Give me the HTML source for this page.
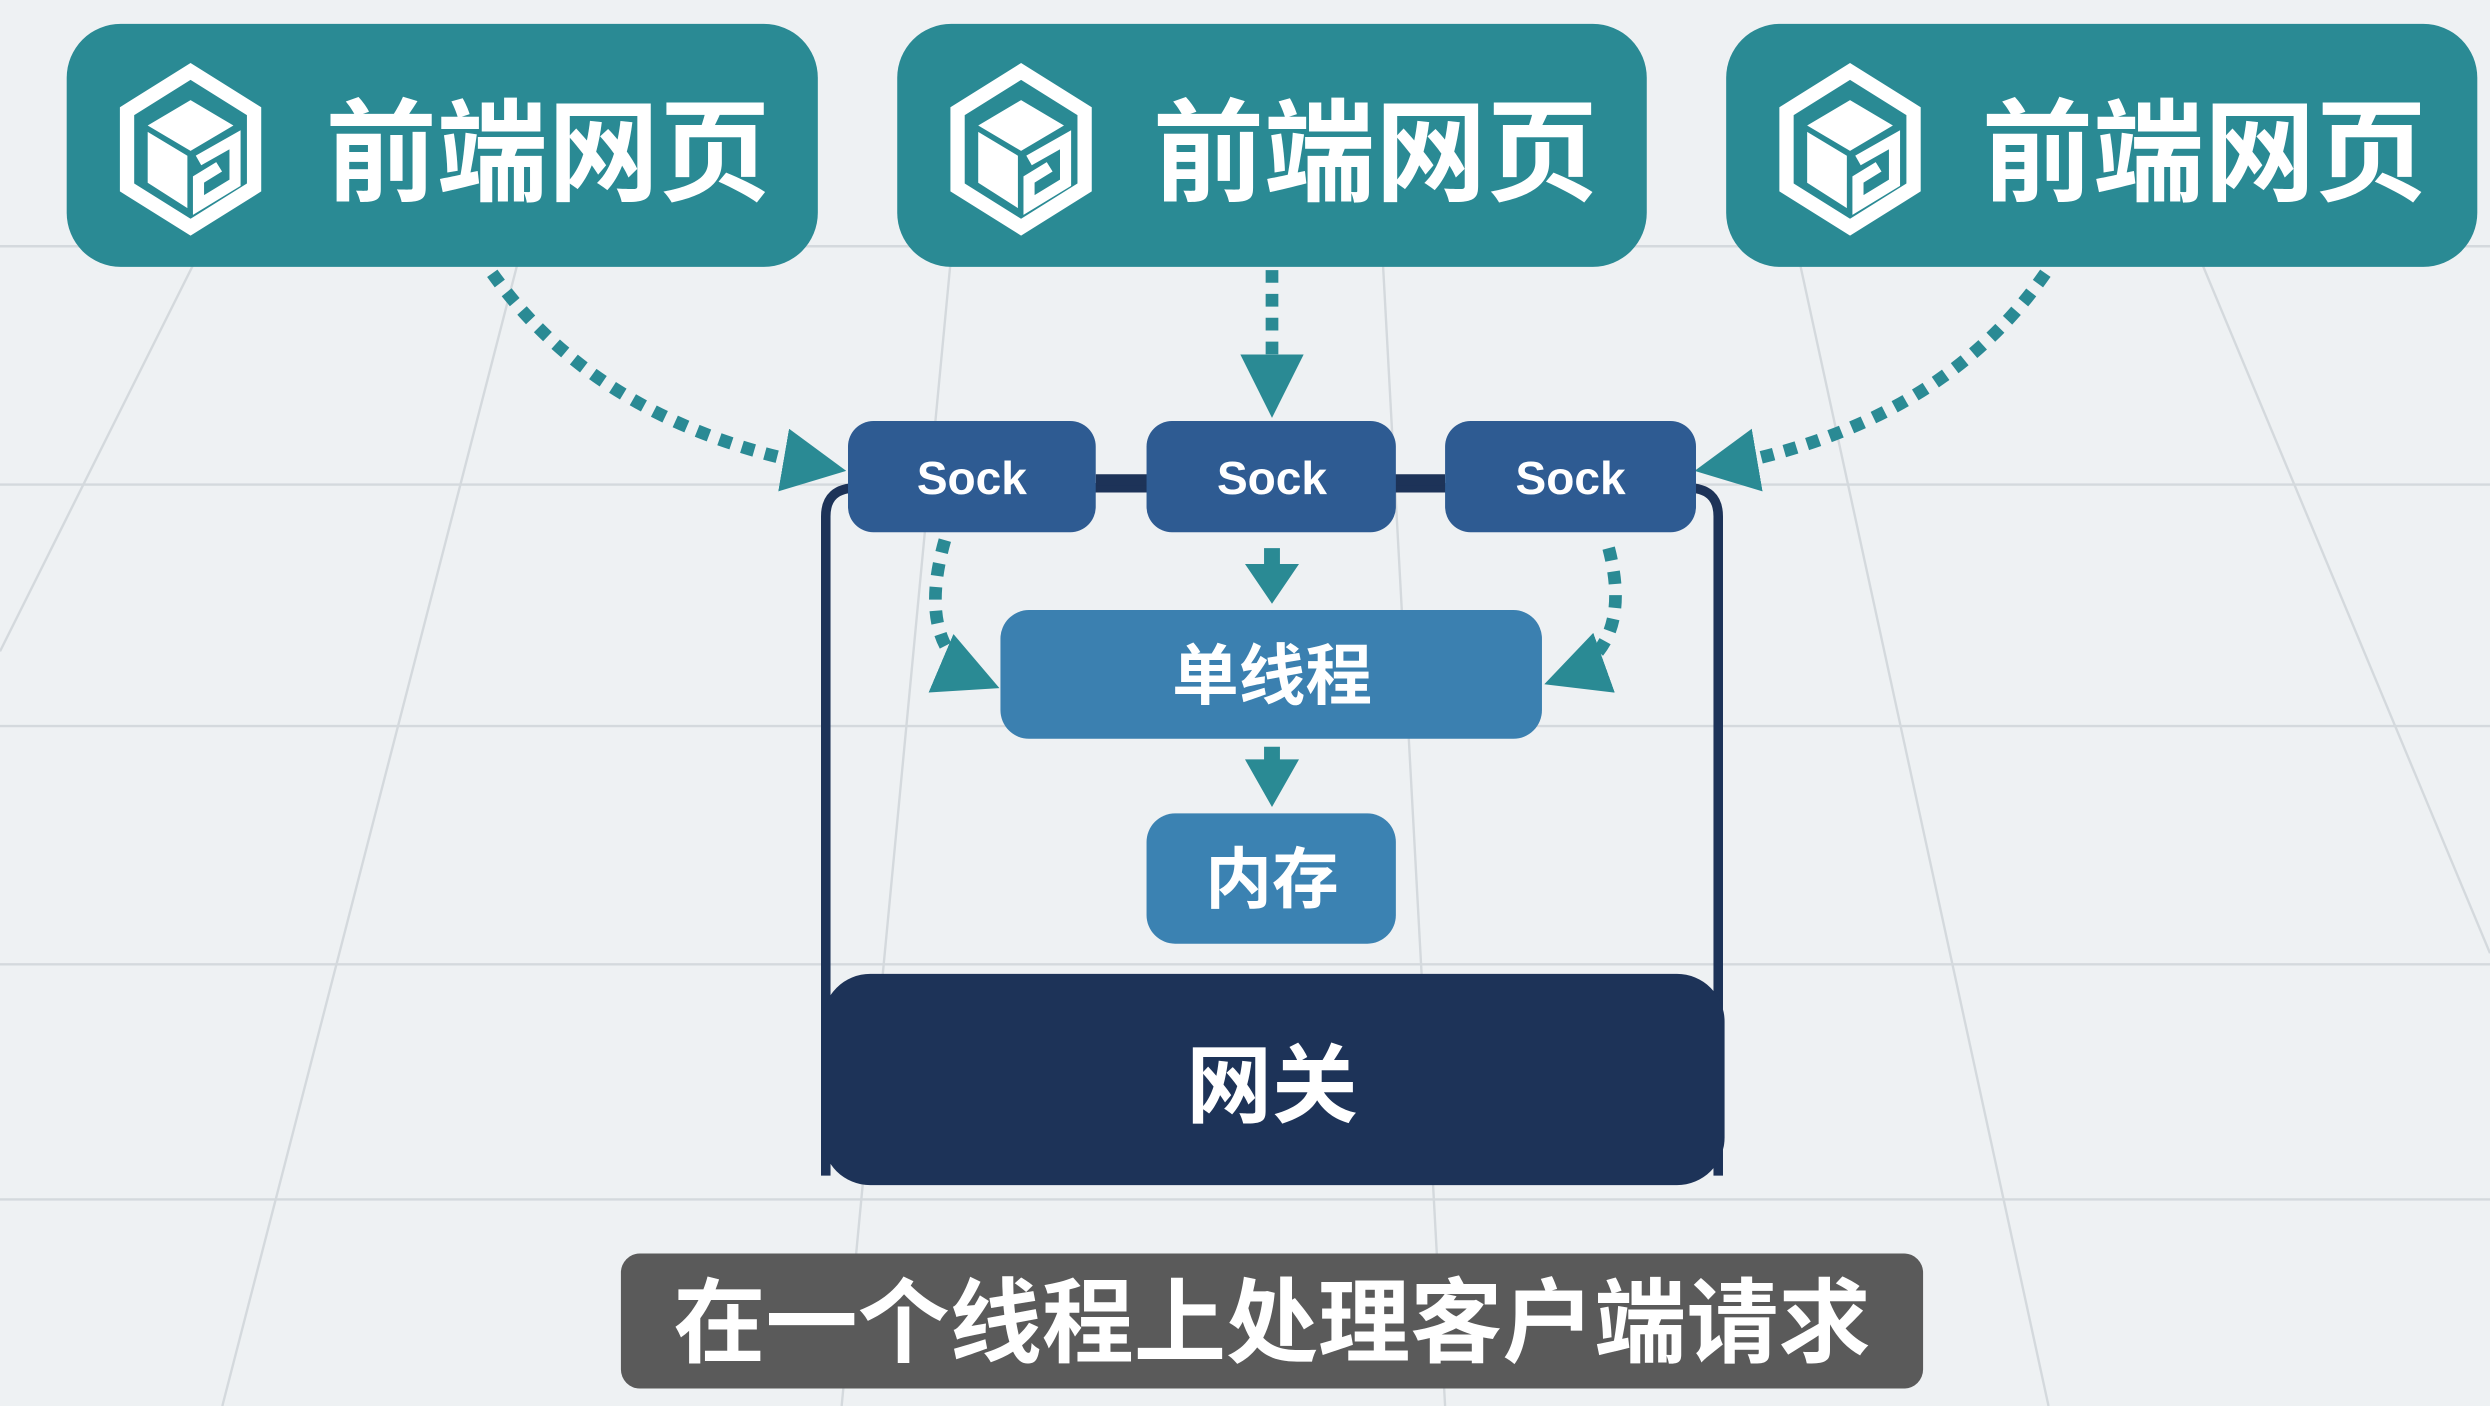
<!DOCTYPE html>
<html><head><meta charset="utf-8"><style>
html,body{margin:0;padding:0;background:#eef1f3;overflow:hidden}
svg{display:block}
text{font-family:"Liberation Sans","Noto Sans CJK SC",sans-serif;font-weight:bold;fill:#fff}
</style></head><body>
<svg width="2490" height="1406" viewBox="0 0 1568 885" preserveAspectRatio="none" xmlns="http://www.w3.org/2000/svg">
<defs>
<g id="logo" fill="none" stroke="#fff" stroke-width="9" stroke-linejoin="miter">
  <path d="M0,-48 L40,-23 L40,25 L0,50 L-40,25 L-40,-23 Z"/>
  <path d="M-27,-14 L0,-30 L27,-14 L0,2 Z" fill="#fff" stroke="none"/>
  <path d="M-27,-10 L-2,5 L-2,38 L-27,22 Z" fill="#fff" stroke="none"/>
  <path d="M5,8 L28,-5 L28,22 L5,36 L5,20 L18,12" stroke-width="7"/>
</g>
<marker id="ah" viewBox="0 0 10 10" refX="8" refY="5" markerWidth="5" markerHeight="5" orient="auto"><path d="M0,0 L10,5 L0,10 Z" fill="#2a8a94"/></marker>
</defs>
<rect width="1568" height="885" fill="#eef1f3"/>
<g stroke="#d4d9dd" stroke-width="1.5" fill="none">
  <line x1="0" y1="155" x2="1568" y2="155"/>
  <line x1="0" y1="305" x2="1568" y2="305"/>
  <line x1="0" y1="457" x2="1568" y2="457"/>
  <line x1="0" y1="607" x2="1568" y2="607"/>
  <line x1="0" y1="755" x2="1568" y2="755"/>
  <line x1="130" y1="150" x2="0" y2="410"/>
  <line x1="330" y1="150" x2="140" y2="885"/>
  <line x1="600" y1="150" x2="530" y2="885"/>
  <line x1="870" y1="150" x2="910" y2="885"/>
  <line x1="1130" y1="150" x2="1290" y2="885"/>
  <line x1="1380" y1="150" x2="1568" y2="600"/>
</g>
<!-- top boxes -->
<g>
<rect x="42" y="15" width="473" height="153" rx="34" fill="#2a8a94"/>
<use href="#logo" x="120" y="93"/>
<text x="345" y="121" font-size="70" text-anchor="middle">前端网页</text>
<rect x="565" y="15" width="472" height="153" rx="34" fill="#2a8a94"/>
<use href="#logo" x="643" y="93"/>
<text x="866" y="121" font-size="70" text-anchor="middle">前端网页</text>
<rect x="1087" y="15" width="473" height="153" rx="34" fill="#2a8a94"/>
<use href="#logo" x="1165" y="93"/>
<text x="1388" y="121" font-size="70" text-anchor="middle">前端网页</text>
</g>
<!-- dotted arrows top -->
<g fill="none" stroke="#2a8a94" stroke-width="8" stroke-dasharray="8 7" marker-end="url(#ah)">
  <path d="M310,172 Q380,270 525,295"/>
  <path d="M801,170 L801,255"/>
  <path d="M1288,172 Q1220,270 1075,295"/>
</g>
<!-- container -->
<path d="M520,740 L520,325 Q520,307 540,307 L1062,307 Q1082,307 1082,325 L1082,740" fill="none" stroke="#1d3358" stroke-width="6"/>
<line x1="690" y1="302" x2="910" y2="302" stroke="#1d3358" stroke-width="7"/>
<!-- socks -->
<rect x="534" y="265" width="156" height="70" rx="16" fill="#2e5b92"/>
<text x="612" y="311" font-size="29" text-anchor="middle">Sock</text>
<rect x="722" y="265" width="157" height="70" rx="16" fill="#2e5b92"/>
<text x="801" y="311" font-size="29" text-anchor="middle">Sock</text>
<rect x="910" y="265" width="158" height="70" rx="16" fill="#2e5b92"/>
<text x="989" y="311" font-size="29" text-anchor="middle">Sock</text>
<!-- inner arrows -->
<g fill="none" stroke="#2a8a94" stroke-width="8" stroke-dasharray="8 7" marker-end="url(#ah)">
  <path d="M595,340 Q575,410 622,430"/>
  <path d="M1013,345 Q1030,410 980,428"/>
</g>
<path d="M796,345 L806,345 L806,355 L818,355 L801,380 L784,355 L796,355 Z" fill="#2a8a94"/>
<path d="M796,470 L806,470 L806,478 L818,478 L801,508 L784,478 L796,478 Z" fill="#2a8a94"/>
<rect x="630" y="384" width="341" height="81" rx="18" fill="#3b80b0"/>
<text x="801" y="440" font-size="42" text-anchor="middle">单线程</text>
<rect x="722" y="512" width="157" height="82" rx="18" fill="#3b82b2"/>
<text x="801" y="568" font-size="42" text-anchor="middle">内存</text>
<rect x="518" y="613" width="568" height="133" rx="30" fill="#1d3358"/>
<text x="801" y="702" font-size="54" text-anchor="middle">网关</text>
<!-- caption -->
<rect x="391" y="789" width="820" height="85" rx="12" fill="#5a5a5a"/>
<text x="801" y="853" font-size="58" text-anchor="middle" font-weight="normal">在一个线程上处理客户端请求</text>
</svg>
</body></html>
